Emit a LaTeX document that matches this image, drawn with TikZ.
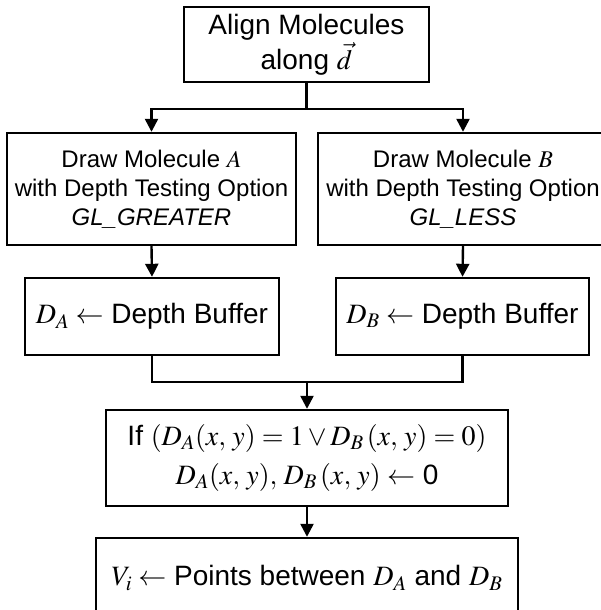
\documentclass[tikz,border=0pt]{standalone}
\usepackage{mathptmx}
\usepackage[no-math]{fontspec}
\setmainfont{Liberation Sans}
\usepackage{tikz}
\usetikzlibrary{arrows.meta, positioning}

\begin{document}
\begin{tikzpicture}[x=1pt, y=-1pt,
		box/.style={draw, line width=2.4pt, align=center, inner sep=0pt},
		big/.style={font=\fontsize{28}{35}\selectfont},
		small/.style={font=\fontsize{24}{29}\selectfont},
		arr/.style={line width=2.4pt, -{Triangle[width=13pt,length=13pt]}},
		link/.style={line width=2.4pt}]
		\useasboundingbox (0,0) rectangle (600,610);
		% Draw boxes
		\node[box, big, minimum width=245pt, minimum height=75pt] (align) at (306.5,44.5) {Align Molecules\\along $\vec{d}$};
		\node[box, small, minimum width=289pt, minimum height=112pt] (molA) at (151.5,189) {Draw Molecule $A$\\with Depth Testing Option\\\textit{GL\_GREATER}};
		\node[box, small, minimum width=290pt, minimum height=112pt] (molB) at (463,189) {Draw Molecule $B$\\with Depth Testing Option\\\textit{GL\_LESS}};
		\node[box, big, minimum width=254pt, minimum height=77pt] (bufA) at (152,316.5) {$D_A \leftarrow$ Depth Buffer};
		\node[box, big, minimum width=253pt, minimum height=77pt] (bufB) at (462.5,316.5) {$D_B \leftarrow$ Depth Buffer};
		\node[box, big, minimum width=402pt, minimum height=96pt, font=\fontsize{28}{39}\selectfont] (cond) at (307,458) {If $(D_A(x,\,y) = 1 \vee D_B\,(x,\,y) = 0)$\\$D_A(x,\,y),\,D_B\,(x,\,y) \leftarrow$ 0};
		\node[box, big, minimum width=422pt, minimum height=80pt] (points) at (307,578) {$V_i \leftarrow$ Points between $D_A$ and $D_B$};
		% Branch points
		\coordinate (split) at (306.5,109);
		\coordinate (join) at (307,382);
		% Draw arrows
		\draw[link] (align.south) -- (split);
		\draw[arr] (split) -| (molA.north);
		\draw[arr] (split) -| (molB.north);
		\draw[arr] (molA.south) -- (bufA.north);
		\draw[arr] (molB.south) -- (bufB.north);
		\draw[link] (bufA.south) |- (join) -| (bufB.south);
		\draw[arr] (join) -- (cond.north);
		\draw[arr] (cond.south) -- (points.north);
	\end{tikzpicture}
\end{document}
